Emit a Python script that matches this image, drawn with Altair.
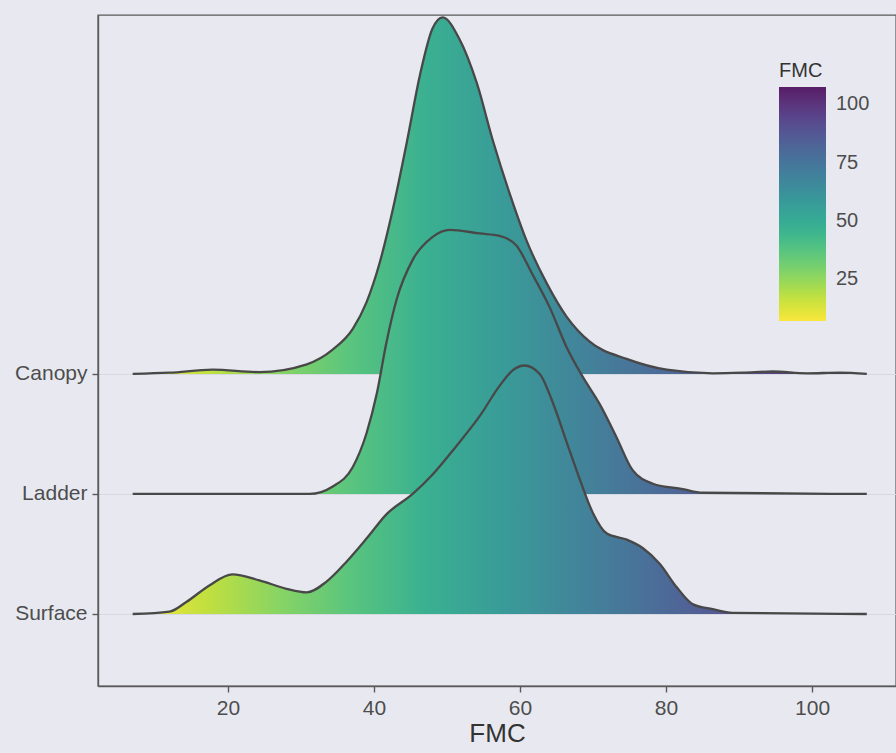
import altair as alt
import pandas as pd

# ---- data ----
ridges = ["Canopy", "Ladder", "Surface"]
ridge_base = [2, 1, 0]

canopy_fmc = [6.95, 12.0, 17.9, 24.3, 30.8, 34.3, 37.1, 39.0, 40.8, 42.6, 44.5, 46.3, 48.0, 49.4,
              51.7, 54.1, 56.3, 58.6, 60.9, 63.7, 66.4, 69.5, 74.6, 80.1, 86.4, 90.5, 94.6, 99.3,
              103.8, 107.5]
canopy_density = [0.0, 0.01, 0.035, 0.015, 0.08, 0.2, 0.375, 0.6, 0.93, 1.375, 1.93, 2.49, 2.875, 2.97,
                  2.79, 2.42, 1.94, 1.5, 1.11, 0.75, 0.475, 0.27, 0.125, 0.035, 0.005, 0.01, 0.02, 0.005,
                  0.01, 0.0]

ladder_fmc = [6.95, 31.2, 34.3, 37.1, 39.0, 40.4, 41.7, 43.1, 45.3, 48.0, 50.4, 54.5, 57.2, 59.5,
              61.7, 64.1, 66.4, 68.6, 70.9, 73.2, 75.4, 78.2, 82.3, 85.0, 107.5]
ladder_density = [0.0, 0.0, 0.06, 0.225, 0.51, 0.84, 1.26, 1.62, 1.95, 2.14, 2.2, 2.17, 2.15, 2.07,
                  1.83, 1.55, 1.22, 0.975, 0.75, 0.475, 0.2, 0.085, 0.04, 0.01, 0.0]

surface_fmc = [6.95, 12.0, 14.3, 17.5, 20.6, 24.3, 28.0, 30.8, 33.5, 36.3, 39.0, 41.7, 45.3, 48.0,
               51.3, 54.5, 57.2, 59.0, 60.6, 62.7, 64.5, 66.4, 68.2, 70.0, 71.9, 74.6, 76.8, 79.1,
               81.5, 83.7, 86.4, 89.1, 107.5]
surface_density = [0.0, 0.02, 0.1, 0.24, 0.33, 0.28, 0.21, 0.18, 0.27, 0.44, 0.63, 0.83, 1.0, 1.16,
                   1.4, 1.65, 1.9, 2.03, 2.07, 2.0, 1.76, 1.43, 1.12, 0.84, 0.67, 0.62, 0.55, 0.42,
                   0.22, 0.08, 0.04, 0.01, 0.0]

x_ticks = [20, 40, 60, 80, 100]
legend_ticks = [25, 50, 75, 100]
fmc_range = [6.95, 107.5]

# ---- table ----
series = {
    "Canopy": (canopy_fmc, canopy_density),
    "Ladder": (ladder_fmc, ladder_density),
    "Surface": (surface_fmc, surface_density),
}
rows = []
for name, base in zip(ridges, ridge_base):
    xs, ds = series[name]
    for x, d in zip(xs, ds):
        rows.append({"ridge": name, "FMC": x, "base": base, "top": base + d})
df = pd.DataFrame(rows)

# ---- styles: viridis (reversed), slightly faded like the printed page ----
viridis = ["#440154", "#482475", "#414487", "#355f8d", "#2a788e", "#21918c",
           "#22a884", "#44bf70", "#7ad151", "#bddf26", "#fde725"]
bg = "#e8e9f0"


def fade(c, amount=0.12):
    a = [int(c[i:i + 2], 16) for i in (1, 3, 5)]
    b = [int(bg[i:i + 2], 16) for i in (1, 3, 5)]
    m = [round(x * (1 - amount) + y * amount) for x, y in zip(a, b)]
    return "#%02x%02x%02x" % tuple(m)


ramp = [fade(c) for c in reversed(viridis)]  # low FMC -> high FMC
ramp_domain = [fmc_range[0] + i * (fmc_range[1] - fmc_range[0]) / 10 for i in range(11)]

fill_gradient = {
    "gradient": "linear",
    "x1": 0, "x2": 1, "y1": 0, "y2": 0,
    "stops": [{"offset": i / 10, "color": ramp[i]} for i in range(11)],
}

label_expr = "datum.value == 2 ? 'Canopy' : datum.value == 1 ? 'Ladder' : 'Surface'"

x_enc = alt.X(
    "FMC:Q",
    scale=alt.Scale(domain=[2.2, 111.5], nice=False, zero=False),
    axis=alt.Axis(values=x_ticks, title="FMC", grid=False, tickSize=6, labelPadding=5,
                  labelFontSize=21, titleFontSize=26, titlePadding=2,
                  labelColor="#4d4d4d", titleColor="#333333", titleFontWeight="normal",
                  domainColor="#5a5a5a", domainWidth=1.4, tickColor="#5a5a5a", tickWidth=1.4),
)
y_enc = alt.Y(
    "top:Q",
    scale=alt.Scale(domain=[-0.6, 4.99], nice=False, zero=False),
    axis=alt.Axis(values=ridge_base, labelExpr=label_expr, title=None, grid=True,
                  gridColor="#d7d9e1", gridWidth=1, tickSize=6, labelPadding=5,
                  labelFontSize=21, labelColor="#4d4d4d",
                  domainColor="#5a5a5a", domainWidth=1.4, tickColor="#5a5a5a", tickWidth=1.4),
)

layers = []
for name in ridges:
    sub = alt.Chart(df).transform_filter(alt.datum.ridge == name)
    layers.append(
        sub.mark_area(interpolate="monotone", color=fill_gradient).encode(
            x=x_enc, y=y_enc, y2="base:Q")
    )
    layers.append(
        sub.mark_line(interpolate="monotone", color="#484848", strokeWidth=2.3).encode(
            x=x_enc, y=y_enc)
    )

legend_layer = alt.Chart(df).mark_point(size=0, filled=True, opacity=1).encode(
    x=x_enc, y=y_enc,
    color=alt.Color(
        "FMC:Q",
        scale=alt.Scale(domain=ramp_domain, range=ramp, nice=False),
        legend=alt.Legend(title="FMC", orient="none", legendX=681, legendY=46,
                          direction="vertical", values=legend_ticks,
                          gradientLength=234, gradientThickness=47, gradientStrokeWidth=0,
                          labelFontSize=20, titleFontSize=20, titleFontWeight="normal",
                          titleColor="#333333", labelColor="#4d4d4d",
                          labelOffset=10, titlePadding=6, padding=0),
    ),
)
layers.append(legend_layer)

chart = alt.layer(*layers).properties(
    width=798, height=671,
    autosize=alt.AutoSizeParams(type="none"),
    padding={"left": 98, "top": 15, "right": 0, "bottom": 67},
    background=bg,
).configure(
    font="Liberation Sans",
    view=alt.ViewConfig(stroke="#5a5a5a", strokeWidth=1.4),
)

chart.save("out.html", embed_options={"renderer": "svg", "actions": False})
